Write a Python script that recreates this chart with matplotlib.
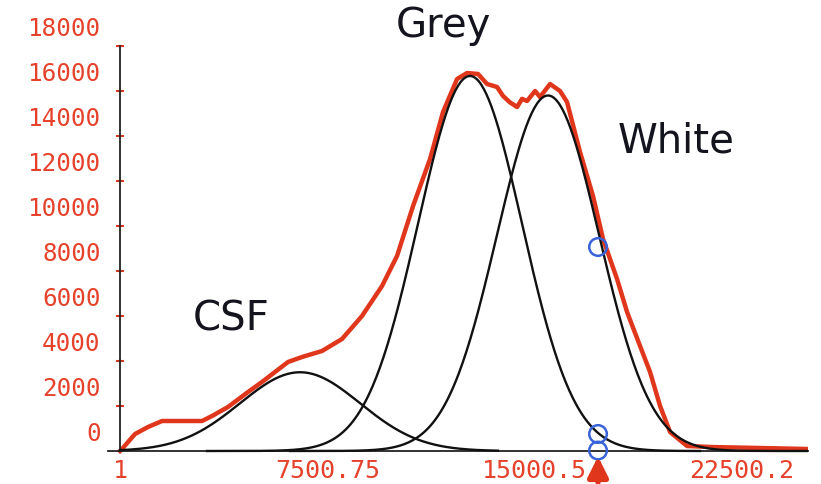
import matplotlib
matplotlib.use("Agg")
import matplotlib.pyplot as plt
import matplotlib.transforms as mtransforms
import numpy as np

# intensity histogram (red)
hist_x = [1, 73, 544, 1014, 1520, 2244, 2967, 3329, 3907, 4631, 5137, 5607, 6078,
          6584, 7307, 8031, 8754, 9478, 10020, 10600, 11214, 11684, 12191, 12553,
          12951, 13276, 13638, 13855, 14100, 14362, 14540, 14724, 15012, 15192,
          15554, 15916, 16169, 16639, 17109, 17471, 17978, 18340, 18810, 19172,
          19534, 19895, 20510, 21342, 23150, 24851]
hist_y = [0, 90, 756, 1067, 1333, 1333, 1333, 1556, 1956, 2622, 3067, 3511, 3956,
          4178, 4444, 4978, 6000, 7333, 8667, 10889, 12978, 15067, 16533, 16800,
          16756, 16311, 16178, 15778, 15500, 15289, 15650, 15556, 16000, 15733,
          16311, 16000, 15511, 13289, 11333, 9422, 7644, 6178, 4667, 3511,
          2000, 844, 222, 178, 133, 89]

# fitted tissue classes (black curves): centre, height, width, drawn range
classes = ["CSF", "Grey", "White"]
class_mean = [6512, 12660, 15482]
class_amp = [3500, 16667, 15800]
class_sigma = [2170, 1880, 1850]
class_from = [1, 3148, 6150]
class_to = [13670, 20980, 24885]

# label positions of the class names
label_x = [4016, 11684, 20112]
label_y = [5422, 18444, 13333]

# threshold markers
mark_x = 17290
mark_y = [9067, 756, 20]

y_ticks = list(range(0, 18001, 2000))
x_ticks = [1, 7500.75, 15000.5, 22500.2]
x_labels = ["1", "7500.75", "15000.5", "22500.2"]

red = "#e0361c"
txt_red = "#e5412b"

fig = plt.figure(figsize=(8.21, 4.85), dpi=100)
ax = fig.add_axes([108 / 821, 0, 700 / 821, 438 / 485])
ax.set_xlim(-434, 24885)
ax.set_ylim(-1467, 18000)

ax.plot(hist_x, hist_y, color=red, lw=3.2, solid_joinstyle="round", zorder=2)

for m, a, s, x0, x1 in zip(class_mean, class_amp, class_sigma, class_from, class_to):
    xs = np.linspace(x0, x1, 400)
    ax.plot(xs, a * np.exp(-0.5 * ((xs - m) / s) ** 2), color="#111111", lw=1.7, zorder=3)

for name, lx, ly in zip(classes, label_x, label_y):
    ax.text(lx, ly, name, fontsize=29, family="DejaVu Sans", color="#14141e",
            ha="center", va="baseline", clip_on=False)

ax.scatter([mark_x] * len(mark_y), mark_y, s=160, facecolors="none",
           edgecolors="#3a63d8", linewidths=1.8, zorder=5, clip_on=False)
ax.annotate("", xy=(mark_x, -120), xytext=(mark_x, -1500),
            arrowprops=dict(arrowstyle="-|>", color=red, lw=4, mutation_scale=30),
            annotation_clip=False, zorder=6)

# axes styling
for side in ["top", "right"]:
    ax.spines[side].set_visible(False)
ax.spines["left"].set_position(("data", 1))
ax.spines["left"].set_bounds(0, 18000)
ax.spines["bottom"].set_position(("data", 0))
for side in ["left", "bottom"]:
    ax.spines[side].set_color("#222222")
    ax.spines[side].set_linewidth(1.3)

ax.set_yticks(y_ticks)
ax.set_yticklabels([str(v) for v in y_ticks])
ax.tick_params(axis="y", direction="inout", length=6, width=1.5, color="#d23a26",
               pad=11, labelsize=17.5, labelcolor=txt_red)
ax.yaxis.get_major_ticks()[0].tick1line.set_visible(False)
shift = mtransforms.ScaledTranslation(0, 20 / 100, fig.dpi_scale_trans)
for lab in ax.get_yticklabels():
    lab.set_family("DejaVu Sans Mono")
    lab.set_transform(lab.get_transform() + shift)

ax.set_xticks(x_ticks)
ax.set_xticklabels(x_labels)
ax.tick_params(axis="x", length=0, pad=5, labelsize=18, labelcolor=txt_red)
for lab in ax.get_xticklabels():
    lab.set_family("DejaVu Sans Mono")

fig.savefig("out.png", dpi=100)
